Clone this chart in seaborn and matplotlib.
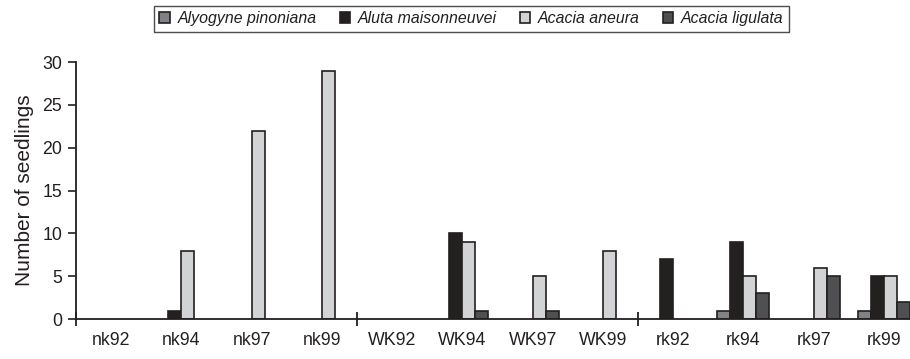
import matplotlib
matplotlib.use("Agg")
import matplotlib.pyplot as plt
import seaborn as sns
import pandas as pd
from matplotlib.patches import Patch
from matplotlib.ticker import FixedLocator

sites = ["nk92", "nk94", "nk97", "nk99", "WK92", "WK94", "WK97", "WK99",
         "rk92", "rk94", "rk97", "rk99"]
species = ["Alyogyne pinoniana", "Aluta maisonneuvei", "Acacia aneura", "Acacia ligulata"]
alyogyne = [0, 0, 0, 0, 0, 0, 0, 0, 0, 1, 0, 1]
aluta = [0, 1, 0, 0, 0, 10, 0, 0, 7, 9, 0, 5]
aneura = [0, 8, 22, 29, 0, 9, 5, 8, 0, 5, 6, 5]
ligulata = [0, 0, 0, 0, 0, 1, 1, 0, 0, 3, 5, 2]
colors = ["#808285", "#231f20", "#d1d3d4", "#4d5052"]
edge = "#231f20"

rows = []
for sp, vals in zip(species, [alyogyne, aluta, aneura, ligulata]):
    for s, v in zip(sites, vals):
        rows.append({"site": s, "species": sp, "count": v})
df = pd.DataFrame(rows)

sns.set_theme(style="white")
plt.rcParams["font.family"] = ["Liberation Sans", "DejaVu Sans"]

fig = plt.figure(figsize=(9.10, 3.59), dpi=100)
ax = fig.add_axes([0.0835, 0.111, 0.9165, 0.716])

sns.barplot(data=df, x="site", y="count", hue="species", hue_order=species,
            palette=colors, width=0.74, edgecolor=edge, linewidth=1.2,
            errorbar=None, ax=ax, legend=False)

# hide the empty (zero-height) bars
for patch in ax.patches:
    if patch.get_height() == 0:
        patch.set_visible(False)

ax.set_xlim(-0.5, 11.37)
ax.set_ylim(0, 30)
ax.set_yticks(range(0, 31, 5))
ax.set_xlabel("")
ax.set_ylabel("Number of seedlings", fontsize=15, color=edge, labelpad=6)

for side in ["top", "right"]:
    ax.spines[side].set_visible(False)
for side in ["left", "bottom"]:
    ax.spines[side].set_color(edge)
    ax.spines[side].set_linewidth(1.3)

ax.tick_params(axis="y", direction="out", length=6, width=1.2, color=edge,
               labelsize=12.8, labelcolor=edge, left=True, pad=4)
ax.tick_params(axis="x", which="major", length=0, labelsize=12.8,
               labelcolor=edge, pad=9)
ax.xaxis.set_minor_locator(FixedLocator([-0.5, 3.5, 7.5, 11.5]))
ax.tick_params(axis="x", which="minor", direction="inout", length=10, width=1.3,
               color=edge, bottom=True)

handles = [Patch(facecolor=c, edgecolor=edge, linewidth=1.2) for c in colors]
leg = fig.legend(handles, species, loc="center", bbox_to_anchor=(0.518, 0.948),
                 ncol=4, frameon=True, fancybox=False, edgecolor=edge,
                 prop={"style": "italic", "size": 11.4}, handlelength=0.65,
                 handleheight=0.65, handletextpad=0.5, columnspacing=1.45,
                 borderpad=0.35, borderaxespad=0)
leg.get_frame().set_linewidth(1.0)
for t in leg.get_texts():
    t.set_color(edge)

fig.savefig("out.png", dpi=100)
